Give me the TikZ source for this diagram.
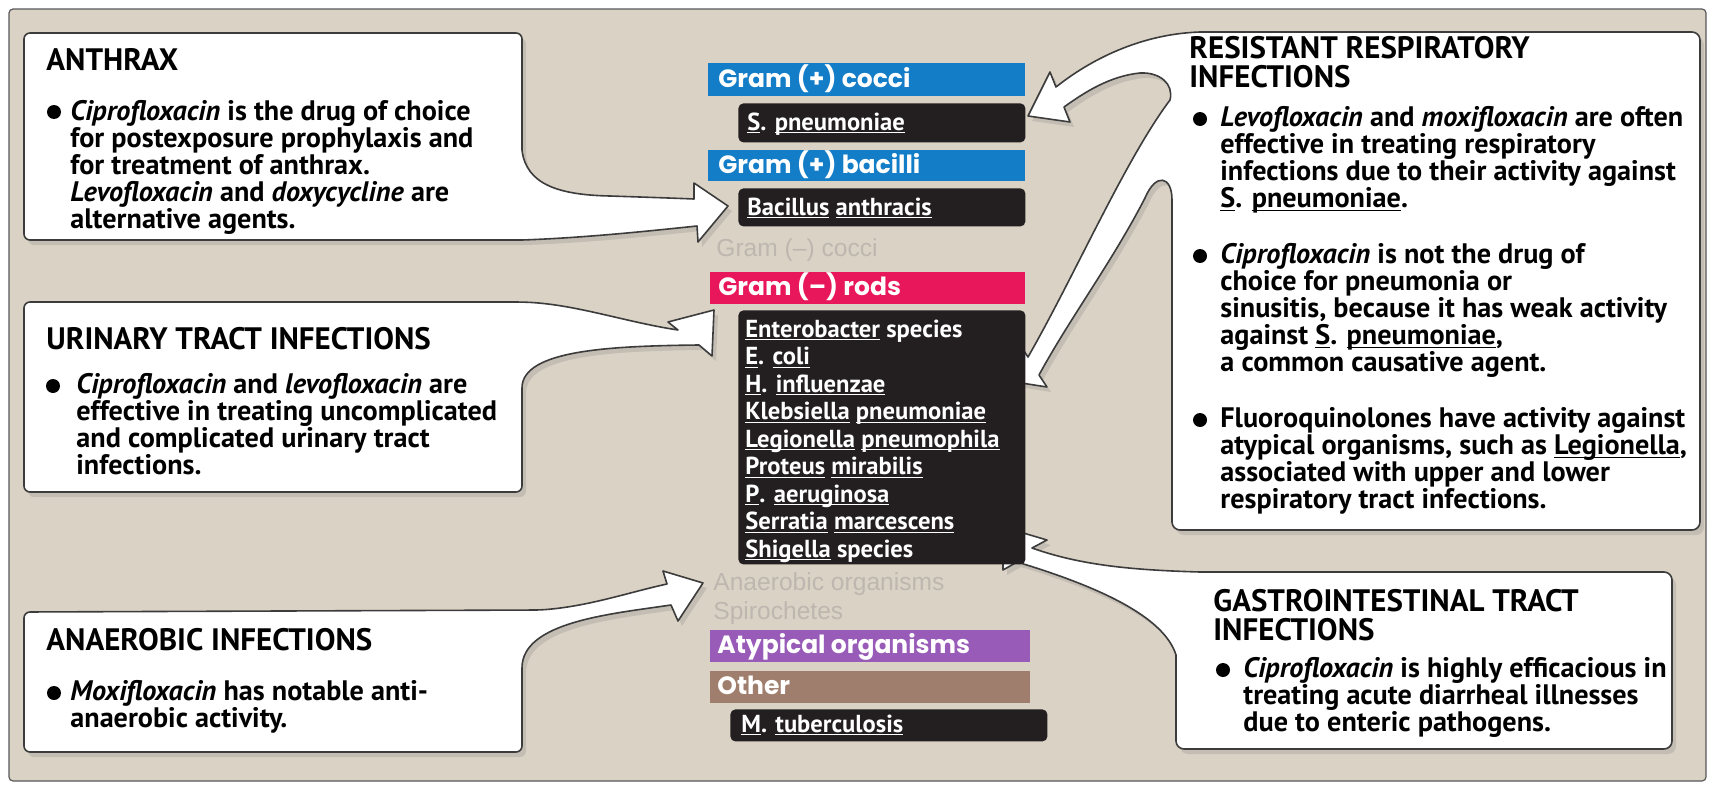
\documentclass[tikz,border=0pt]{standalone}
\usepackage{fontspec}
\setmainfont{PT Sans}[ItalicFeatures={FakeStretch=1.32}]
\newfontfamily\barfont{Poppins}
\newfontfamily\grayfont{Liberation Sans}
\newcommand{\uln}[1]{\underline{\smash{#1}}}
\usetikzlibrary{shadows}
\definecolor{bgbeige}{RGB}{218,210,197}
\definecolor{gblue}{RGB}{20,125,200}
\definecolor{gpink}{RGB}{232,22,90}
\definecolor{gpurple}{RGB}{152,92,184}
\definecolor{gbrown}{RGB}{160,126,110}
\definecolor{gblack}{RGB}{35,31,32}
\definecolor{ggray}{RGB}{190,183,175}
\definecolor{outl}{RGB}{60,60,60}
\newcommand{\bodyf}{\fontsize{14.1}{13.55}\selectfont\bfseries}
\newcommand{\titlef}{\fontsize{15.5}{14.5}\selectfont\bfseries}
\newcommand{\listf}{\fontsize{12.3}{13.75}\selectfont\bfseries}
\newcommand{\barf}{\barfont\fontsize{12.5}{14}\selectfont\bfseries}
\newcommand{\grayf}{\grayfont\fontsize{12.3}{14}\selectfont}
\tikzset{
  callout/.style={fill=white, draw=outl, line width=0.8pt, line join=round,
    drop shadow={shadow xshift=2pt, shadow yshift=-2.5pt, opacity=0.25}},
  txt/.style={anchor=base west, inner sep=0pt, text=black},
  wtxt/.style={anchor=base west, inner sep=0pt, text=white},
  bar/.style={anchor=north west, inner sep=0pt, draw=none},
  blk/.style={anchor=north west, inner sep=0pt, fill=gblack, rounded corners=2.5pt},
  dot/.style={fill=black},
}
\begin{document}
\begin{tikzpicture}[x=0.5pt,y=-0.5pt]
\useasboundingbox (0,0) rectangle (1714,787);
\fill[white] (0,0) rectangle (1714,787);
\draw[fill=bgbeige, draw=gray!70!black, line width=0.6pt, rounded corners=2pt] (9,9) rectangle (1706,781);

% ---------- callouts ----------
% anthrax
\path[callout] (24,140) [rounded corners=3pt] -- (24,33) -- (522,33) -- (522,120) [sharp corners] -- (522,150)
  .. controls (526,185) and (560,195) .. (610,196)
  .. controls (640,197) and (670,198) .. (694,199)
  -- (694,183) -- (728,206) -- (698,242) -- (697,226)
  .. controls (640,232) and (580,238) .. (522,240)
  [rounded corners=3pt] -- (24,240) -- cycle;
% urinary
\path[callout] (24,400) [rounded corners=3pt] -- (24,302) -- (520,302) [sharp corners]
  .. controls (575,304) and (625,322) .. (678,330)
  -- (668,322) -- (714,310) -- (712,356) -- (699,345)
  .. controls (610,346) and (522,350) .. (522,388)
  -- (522,420) [rounded corners=3pt] -- (522,492) -- (24,492) -- cycle;
% anaerobic
\path[callout] (24,690) [rounded corners=3pt] -- (24,612) -- (540,610) [sharp corners]
  .. controls (590,606) and (630,592) .. (667,584)
  -- (663,571) -- (703,583) -- (678,621) -- (671,605)
  .. controls (610,614) and (522,622) .. (522,668)
  -- (522,700) [rounded corners=3pt] -- (522,752) -- (24,752) -- cycle;
% resistant respiratory
\path[callout] (1400,32) [rounded corners=4pt] -- (1700,32) -- (1700,530) -- (1172,530) -- (1172,300) [sharp corners] -- (1172,200)
  .. controls (1172,176) and (1156,172) .. (1145,198)
  .. controls (1112,262) and (1070,318) .. (1039,375)
  -- (1047,387) -- (1002,380) -- (1020,345) -- (1028,357)
  .. controls (1075,275) and (1125,160) .. (1170,100)
  .. controls (1174,84) and (1160,72) .. (1140,73)
  .. controls (1110,76) and (1085,92) .. (1064,107)
  -- (1070,122) -- (1028,116) -- (1050,72) -- (1056,87)
  .. controls (1090,60) and (1140,34) .. (1200,32) -- cycle;
% gastrointestinal
\path[callout] (1400,572) [rounded corners=4pt] -- (1672,572) -- (1672,749) -- (1176,749) -- (1176,690) [sharp corners] -- (1176,655)
  .. controls (1165,620) and (1110,590) .. (1017,562)
  -- (1003,570) -- (1003,527) -- (1047,540) -- (1032,548)
  .. controls (1080,565) and (1130,570) .. (1200,572) -- cycle;

% ---------- centre column ----------
\node[bar, fill=gblue, minimum width=158.5pt, minimum height=16.5pt] (gpc) at (708,63) {};
\node[wtxt, font=\barf] (gpct) at (718,87) {Gram (+) cocci};
\node[blk, minimum width=143.5pt, minimum height=19.5pt] (spn) at (738,103) {};
\node[wtxt, font=\listf] (spnt) at (747,130) {\uln{S}. \uln{pneumoniae}};
\node[bar, fill=gblue, minimum width=158.5pt, minimum height=15.5pt] (gpb) at (708,150) {};
\node[wtxt, font=\barf] (gpbt) at (718,173) {Gram (+) bacilli};
\node[blk, minimum width=143.5pt, minimum height=19pt] (ban) at (738,188) {};
\node[wtxt, font=\listf] (bant) at (747,215) {\uln{Bacillus} \uln{anthracis}};
\node[txt, text=ggray, font=\grayf] (gnc) at (716,256) {Gram (–) cocci};
\node[bar, fill=gpink, minimum width=157.5pt, minimum height=16pt] (gnr) at (710,272) {};
\node[wtxt, font=\barf] (gnrt) at (718,295) {Gram (–) rods};
\node[blk, minimum width=143.5pt, minimum height=127pt] (lst) at (738,310) {};
\node[wtxt, font=\listf] (lstt) at (745,337) {\parbox[t]{200pt}{\listf\raggedright
  \uln{Enterobacter} species\\
  \uln{E}. \uln{coli}\\
  \uln{H}. \uln{influenzae}\\
  \uln{Klebsiella} \uln{pneumoniae}\\
  \uln{Legionella} \uln{pneumophila}\\
  \uln{Proteus} \uln{mirabilis}\\
  \uln{P}. \uln{aeruginosa}\\
  \uln{Serratia} \uln{marcescens}\\
  \uln{Shigella} species}};
\node[txt, text=ggray, font=\grayf] (anorg) at (713,590) {Anaerobic organisms};
\node[txt, text=ggray, font=\grayf] (spir) at (713,619) {Spirochetes};
\node[bar, fill=gpurple, minimum width=160pt, minimum height=16pt] (atyp) at (710,630) {};
\node[wtxt, font=\barf] (atypt) at (717,653) {Atypical organisms};
\node[bar, fill=gbrown, minimum width=160pt, minimum height=16pt] (oth) at (710,671) {};
\node[wtxt, font=\barf] (otht) at (717,694) {Other};
\node[blk, minimum width=158.5pt, minimum height=16pt] (mtb) at (730,709) {};
\node[wtxt, font=\listf] (mtbt) at (741,732) {\uln{M}. \uln{tuberculosis}};

% ---------- left texts ----------
\node[txt, font=\titlef] (t1) at (46,70) {ANTHRAX};
\fill[dot] (54,112) circle[radius=3.5pt];
\node[txt] (b1) at (70,120) {\parbox[t]{300pt}{\bodyf\raggedright
  \textit{Ciprofloxacin} is the drug of choice\\
  for postexposure prophylaxis and\\
  for treatment of anthrax.\\
  \textit{Levofloxacin} and \textit{doxycycline} are\\
  alternative agents.}};

\node[txt, font=\titlef] (t2) at (46,349) {URINARY TRACT INFECTIONS};
\fill[dot] (53,386) circle[radius=3.5pt];
\node[txt] (b2) at (76,393) {\parbox[t]{300pt}{\bodyf\raggedright
  \textit{Ciprofloxacin} and \textit{levofloxacin} are\\
  effective in treating uncomplicated\\
  and complicated urinary tract\\
  infections.}};

\node[txt, font=\titlef] (t3) at (46,650) {ANAEROBIC INFECTIONS};
\fill[dot] (54,693) circle[radius=3.5pt];
\node[txt] (b3) at (70,700) {\parbox[t]{300pt}{\bodyf\raggedright
  \textit{Moxifloxacin} has notable anti-\\
  anaerobic activity.}};

% ---------- right texts ----------
\node[txt] (t4) at (1189,58) {\parbox[t]{300pt}{\titlef\raggedright RESISTANT RESPIRATORY\\ INFECTIONS}};
\fill[dot] (1200,119) circle[radius=3.5pt];
\node[txt] (b4) at (1220,126) {\parbox[t]{300pt}{\bodyf\raggedright
  \textit{Levofloxacin} and \textit{moxifloxacin} are often\\
  effective in treating respiratory\\
  infections due to their activity against\\
  \uln{S}. \uln{pneumoniae}.}};
\fill[dot] (1200,256) circle[radius=3.5pt];
\node[txt] (b5) at (1220,263) {\parbox[t]{300pt}{\bodyf\raggedright
  \textit{Ciprofloxacin} is not the drug of\\
  choice for pneumonia or\\
  sinusitis, because it has weak activity\\
  against \uln{S}. \uln{pneumoniae},\\
  a common causative agent.}};
\fill[dot] (1200,420) circle[radius=3.5pt];
\node[txt] (b6) at (1220,427) {\parbox[t]{300pt}{\bodyf\raggedright
  Fluoroquinolones have activity against\\
  atypical organisms, such as \uln{Legionella},\\
  associated with upper and lower\\
  respiratory tract infections.}};

\node[txt] (t5) at (1213,611) {\parbox[t]{300pt}{\titlef\raggedright GASTROINTESTINAL TRACT\\ INFECTIONS}};
\fill[dot] (1223,670) circle[radius=3.5pt];
\node[txt] (b7) at (1243,677) {\parbox[t]{300pt}{\bodyf\raggedright
  \textit{Ciprofloxacin} is highly efficacious in\\
  treating acute diarrheal illnesses\\
  due to enteric pathogens.}};
\end{tikzpicture}
\end{document}
